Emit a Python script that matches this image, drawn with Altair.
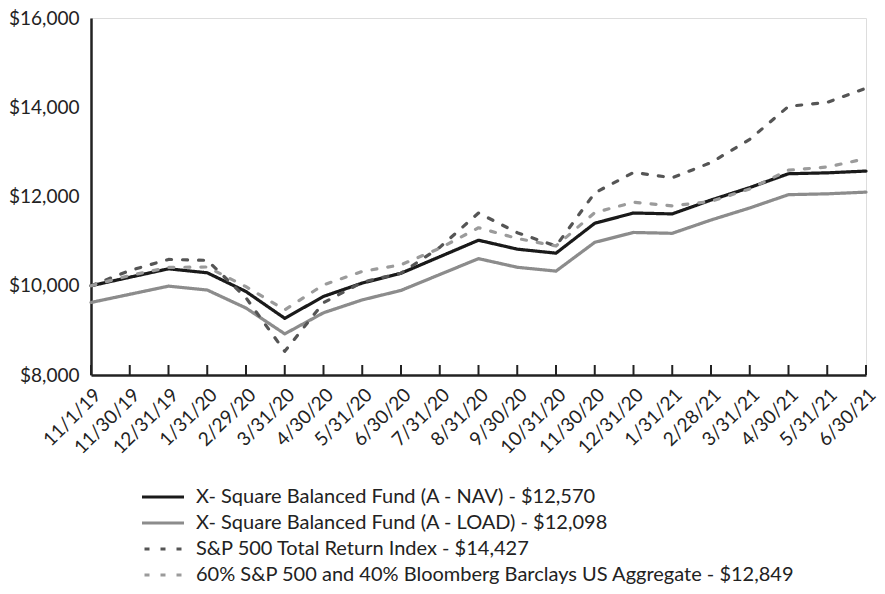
import altair as alt
import pandas as pd

dates = ["11/1/19", "11/30/19", "12/31/19", "1/31/20", "2/29/20", "3/31/20", "4/30/20",
         "5/31/20", "6/30/20", "7/31/20", "8/31/20", "9/30/20", "10/31/20", "11/30/20",
         "12/31/20", "1/31/21", "2/28/21", "3/31/21", "4/30/21", "5/31/21", "6/30/21"]

nav = [10000, 10190, 10380, 10290, 9870, 9270, 9760, 10060, 10280, 10650, 11020,
       10820, 10730, 11400, 11630, 11610, 11920, 12200, 12510, 12530, 12570]
load = [9625, 9808, 9991, 9904, 9500, 8922, 9394, 9683, 9895, 10251, 10607,
        10414, 10328, 10973, 11194, 11175, 11473, 11743, 12041, 12060, 12098]
sp500 = [10000, 10340, 10590, 10570, 9730, 8530, 9620, 10080, 10280, 10860, 11630,
         11190, 10890, 12080, 12540, 12420, 12760, 13280, 14020, 14110, 14427]
blend = [10000, 10230, 10410, 10420, 9980, 9460, 10020, 10320, 10470, 10840, 11300,
         11060, 10890, 11640, 11870, 11790, 11890, 12170, 12590, 12660, 12849]

series_names = [
    "X- Square Balanced Fund (A - NAV) - $12,570",
    "X- Square Balanced Fund (A - LOAD) - $12,098",
    "S&P 500 Total Return Index - $14,427",
    "60% S&P 500 and 40% Bloomberg Barclays US Aggregate - $12,849",
]
series_values = [nav, load, sp500, blend]

rows = []
for name, vals in zip(series_names, series_values):
    for i, (d, v) in enumerate(zip(dates, vals)):
        rows.append({"date": d, "value": v, "series": name, "order": i})
df = pd.DataFrame(rows)
ticks_df = pd.DataFrame({"date": dates})

W, H = 775, 357
FONT = "Lato"

x_scale = alt.Scale(domain=dates, type="point", padding=0)

legend_cfg = dict(title=None, orient="none", legendX=49, legendY=466,
                  symbolType="stroke", symbolSize=1764, symbolStrokeWidth=3.2,
                  symbolDashOffset=13.5, labelFontSize=20, labelFont=FONT,
                  labelColor="#222222", labelOffset=10, clipHeight=26, rowPadding=0,
                  padding=0, labelLimit=800)

lines = alt.Chart(df).mark_line(strokeWidth=3.2, strokeCap="round", strokeJoin="round").encode(
    x=alt.X("date:N", scale=x_scale, sort=dates,
            axis=alt.Axis(title=None, labelAngle=-45, labelFontSize=19, labelFont=FONT,
                          labelColor="#222222", ticks=False, domainColor="#222222",
                          domainWidth=2.5, labelPadding=10, grid=False)),
    y=alt.Y("value:Q", scale=alt.Scale(domain=[8000, 16000], nice=False),
            axis=alt.Axis(title=None, values=[8000, 10000, 12000, 14000, 16000],
                          format="$,.0f", labelFontSize=19, labelFont=FONT,
                          labelColor="#222222", ticks=False, domainColor="#222222",
                          domainWidth=2.5, labelPadding=12, grid=False)),
    color=alt.Color("series:N", sort=series_names,
                    scale=alt.Scale(domain=series_names,
                                    range=["#1a1a1a", "#8c8c8c", "#555555", "#9b9b9b"]),
                    legend=alt.Legend(**legend_cfg)),
    strokeDash=alt.StrokeDash("series:N", sort=series_names,
                              scale=alt.Scale(domain=series_names,
                                              range=[[1, 0], [1, 0], [5, 11], [5, 11]]),
                              legend=alt.Legend(**legend_cfg)),
    order="order:Q",
)

tick_marks = alt.Chart(ticks_df).mark_rule(color="#222222", strokeWidth=2).encode(
    x=alt.X("date:N", scale=x_scale, sort=dates),
    y=alt.value(H - 10),
    y2=alt.value(H),
)

chart = alt.layer(lines, tick_marks).properties(
    width=W, height=H,
    autosize=alt.AutoSizeParams(type="none"),
    padding={"left": 83, "top": 10, "right": 11, "bottom": 211},
).configure_view(stroke=None).configure(background="white")

chart.save("out.html", embed_options={"renderer": "svg", "actions": False})
